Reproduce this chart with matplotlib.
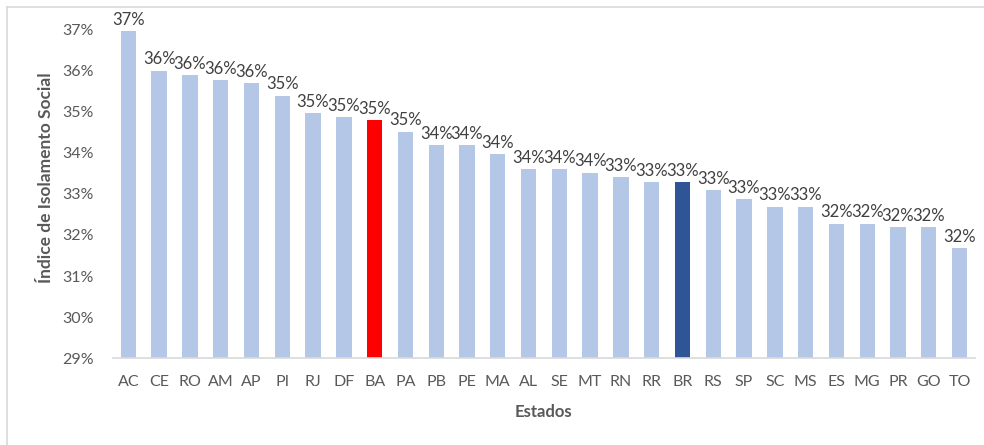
import matplotlib.pyplot as plt
from matplotlib.lines import Line2D

plt.rcParams['font.family'] = ['Lato', 'DejaVu Sans']

estados = ['AC', 'CE', 'RO', 'AM', 'AP', 'PI', 'RJ', 'DF', 'BA', 'PA', 'PB', 'PE', 'MA', 'AL',
           'SE', 'MT', 'RN', 'RR', 'BR', 'RS', 'SP', 'SC', 'MS', 'ES', 'MG', 'PR', 'GO', 'TO']
indice = [36.98, 36.01, 35.90, 35.78, 35.70, 35.40, 34.98, 34.87, 34.80, 34.52, 34.20, 34.20, 33.97, 33.60,
          33.60, 33.52, 33.41, 33.29, 33.29, 33.10, 32.88, 32.69, 32.69, 32.28, 32.28, 32.20, 32.20, 31.68]

cor_base = '#B4C7E7'
destaques = {'BA': '#FF0000', 'BR': '#2F5597'}
cores = [destaques.get(e, cor_base) for e in estados]

fig = plt.figure(figsize=(9.84, 4.45), dpi=100)
ax = fig.add_axes([0.1148, 0.1955, 0.876, 0.7371])

x = range(len(estados))
ax.bar(x, indice, width=0.5, color=cores, bottom=0)
ax.set_ylim(29, 37)
ax.set_xlim(-0.5, len(estados) - 0.5)

for i, v in enumerate(indice):
    ax.text(i, v + 0.08, '{:.0f}%'.format(v), ha='center', va='bottom',
            fontsize=12, color='#404040')

ax.set_yticks(range(29, 38))
ax.set_yticklabels(['{}%'.format(t) for t in range(29, 38)])
ax.set_xticks(list(x))
ax.set_xticklabels(estados)
ax.tick_params(axis='both', length=0, labelsize=11.5, colors='#595959')
ax.tick_params(axis='y', pad=14)
ax.tick_params(axis='x', pad=12)

for s in ['top', 'right', 'left']:
    ax.spines[s].set_visible(False)
ax.spines['bottom'].set_color('#D9D9D9')
ax.spines['bottom'].set_linewidth(1.2)

fig.text(0.047, 0.60, 'Índice de Isolamento Social', rotation=90, ha='center', va='center',
         fontsize=12.5, fontweight='bold', color='#595959')
fig.text(0.552, 0.075, 'Estados', ha='center', va='center',
         fontsize=12, fontweight='bold', color='#595959')

# moldura da área do gráfico
fig.add_artist(Line2D([6.5 / 984, 1], [1 - 6.5 / 445] * 2, color='#D9D9D9', lw=1.2))
fig.add_artist(Line2D([6.5 / 984] * 2, [0, 1 - 6.5 / 445], color='#D9D9D9', lw=1.2))

fig.savefig('out.png', dpi=100)
